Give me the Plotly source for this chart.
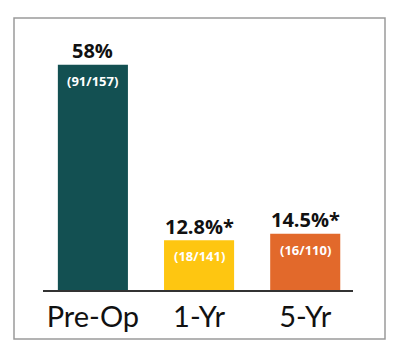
import plotly.graph_objects as go

categories = ["Pre-Op", "1-Yr", "5-Yr"]
values = [58, 12.8, 14.5]
top_labels = ["58%", "12.8%*", "14.5%*"]
inner_labels = ["(91/157)", "(18/141)", "(16/110)"]
colors = ["#135052", "#FEC611", "#E2692B"]

fig = go.Figure()
fig.add_trace(go.Bar(
    x=[0, 1, 2], y=values, marker=dict(color=colors, line=dict(width=0)),
    width=0.66, hoverinfo="skip"))

for i, (v, t, n) in enumerate(zip(values, top_labels, inner_labels)):
    fig.add_annotation(x=i, y=v, text="<b>%s</b>" % t, showarrow=False,
                       yanchor="middle", yshift=14,
                       font=dict(family="Open Sans", size=20, color="#111111"))
    fig.add_annotation(x=i, y=v, text="<b>%s</b>" % n, showarrow=False,
                       yanchor="middle", yshift=-16,
                       font=dict(family="Open Sans", size=13, color="#FFFFFF"))

# outer border box (pixel coords converted to paper)
L, R, T, B = 43, 353, 40, 290
def px(x):
    return (x - L) / (R - L)
def py(y):
    return (B - y) / (B - T)

fig.add_shape(type="rect", xref="paper", yref="paper",
              x0=px(14), x1=px(385), y0=py(339), y1=py(18),
              line=dict(color="#9A9A9A", width=1.5), fillcolor="rgba(0,0,0,0)")

fig.update_layout(
    width=400, height=357,
    margin=dict(l=L, r=400 - R, t=T, b=357 - B),
    paper_bgcolor="white", plot_bgcolor="white",
    showlegend=False,
    xaxis=dict(range=[-0.47, 2.45], tickvals=[0, 1, 2], ticktext=categories,
               showgrid=False, zeroline=False, showline=True,
               linecolor="#333333", linewidth=1.5, ticks="",
               tickfont=dict(family="Lato", size=29, color="#111111"),
               fixedrange=True),
    yaxis=dict(range=[0, 64.4], visible=False, showgrid=False, fixedrange=True),
)

fig.write_html("out.html", config={"displayModeBar": False},
               post_script="document.body.style.margin='0';document.body.style.overflow='hidden';")
